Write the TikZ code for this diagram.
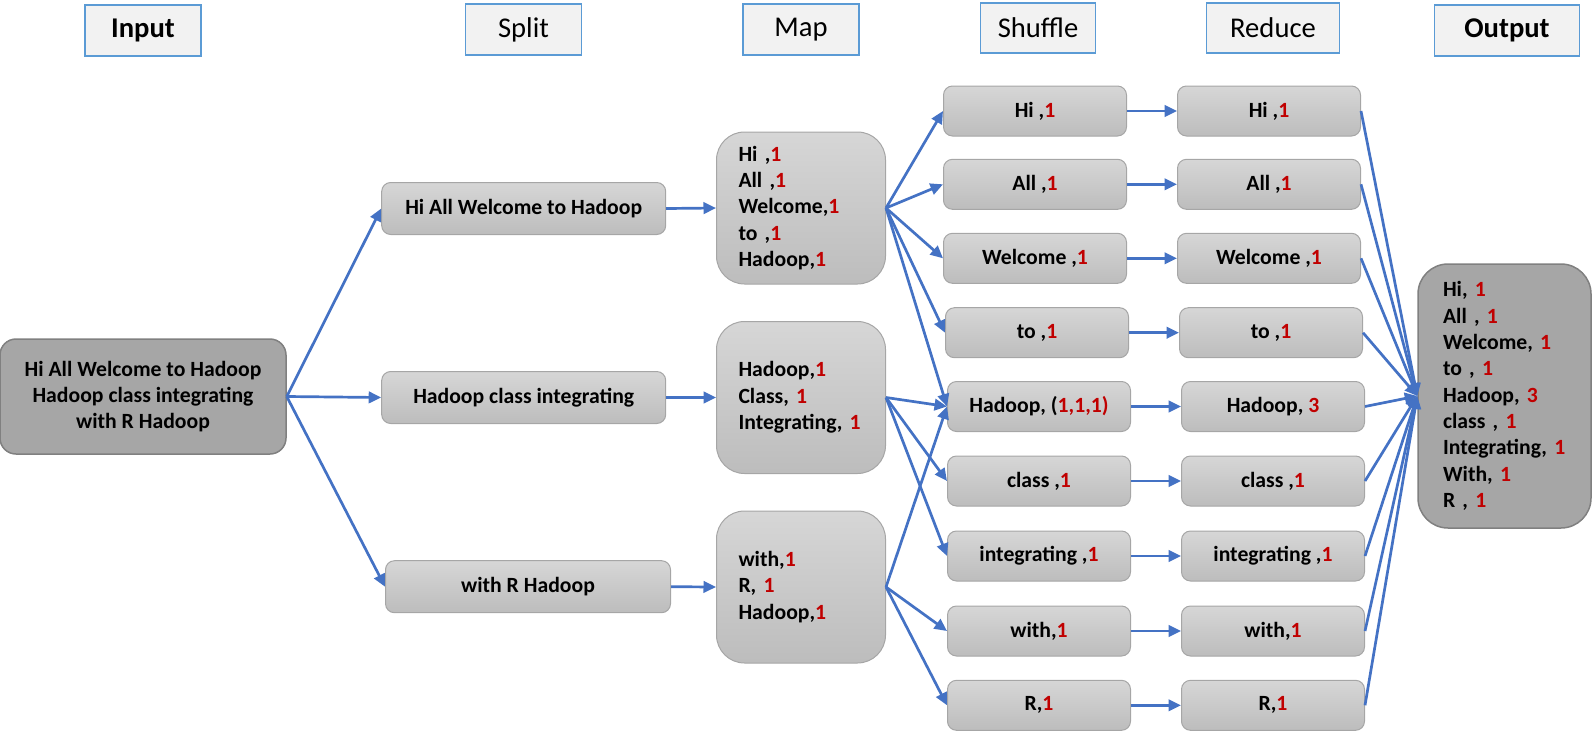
\documentclass[tikz,border=0pt]{standalone}
\usepackage{fontspec}
\setmainfont{Carlito}
\usepackage{xcolor}
\usetikzlibrary{arrows.meta}

\definecolor{flowblue}{HTML}{4472C4}
\definecolor{headblue}{HTML}{5B9BD5}
\definecolor{numred}{HTML}{C00000}
\newcommand{\redn}[1]{\textcolor{numred}{#1}}

\begin{document}
\begin{tikzpicture}[
  x=1pt, y=-1pt,
  head/.style={draw=headblue,line width=1.3pt,fill=black!5,minimum width=116pt,minimum height=51pt,inner sep=0pt,font=\fontsize{28.6}{34}\selectfont},
  kv/.style={draw=black!35,line width=1pt,top color=black!16,bottom color=black!26,rounded corners=9pt,minimum width=183pt,minimum height=50pt,inner sep=0pt,font=\fontsize{21.7}{26.3}\selectfont\bfseries},
  split/.style={kv,minimum width=284pt,minimum height=52pt},
  maplist/.style={kv,rounded corners=28pt,minimum width=169pt,text width=125pt,inner xsep=22pt,minimum height=152pt,align=left},
  bigbox/.style={draw=black!50,line width=1.5pt,fill=black!35,rounded corners=16pt,inner sep=0pt,align=center,font=\fontsize{21.7}{26.3}\selectfont\bfseries},
  arr/.style={-{Triangle[length=12.5pt,width=11.5pt]},flowblue,line width=2.7pt},
]
\useasboundingbox (0,0) rectangle (1592,731);

% headers
\node[head,font=\fontsize{28.6}{34}\selectfont\bfseries] (hin)  at (143,30.5)  {Input};
\node[head]                                           (hspl) at (523.5,29.5) {Split};
\node[head]                                           (hmap) at (801,29.5)   {Map};
\node[head,minimum width=115pt,minimum height=50pt]   (hshf) at (1038,28)    {Shuffle};
\node[head,minimum width=133pt,minimum height=50pt]   (hred) at (1273,28)    {Reduce};
\node[head,minimum width=145pt,font=\fontsize{28.6}{34}\selectfont\bfseries] (hout) at (1507,30.5) {Output};

% input
\node[bigbox,minimum width=286pt,minimum height=115pt] (in) at (143,396.5)
  {Hi All Welcome to Hadoop\\Hadoop class integrating\\with R Hadoop};

% split
\node[split] (s1) at (523.7,208.5) {Hi All Welcome to Hadoop};
\node[split] (s2) at (523.7,397.5) {Hadoop class integrating};
\node[split,minimum width=285pt] (s3) at (528,586.7) {with R Hadoop};

% map
\node[maplist] (m1) at (801,208)   {Hi ,\redn{1}\\All ,\redn{1}\\Welcome,\redn{1}\\to ,\redn{1}\\Hadoop,\redn{1}};
\node[maplist] (m2) at (801,397.5) {Hadoop,\redn{1}\\Class, \redn{1}\\Integrating, \redn{1}};
\node[maplist] (m3) at (801,587)   {with,\redn{1}\\R, \redn{1}\\Hadoop,\redn{1}};

% shuffle, top to bottom
\node[kv] (sh1) at (1035,111)   {Hi ,\redn{1}};
\node[kv] (sh2) at (1035,184.3) {All ,\redn{1}};
\node[kv] (sh3) at (1035,258.3) {Welcome ,\redn{1}};
\node[kv] (sh4) at (1037,332.7) {to ,\redn{1}};
\node[kv] (sh5) at (1039,406.5) {Hadoop, (\redn{1,1,1)}};
\node[kv] (sh6) at (1039,481)   {class ,\redn{1}};
\node[kv] (sh7) at (1039,556)   {integrating ,\redn{1}};
\node[kv] (sh8) at (1039,631)   {with,\redn{1}};
\node[kv] (sh9) at (1039,705.3) {R,\redn{1}};

% reduce, same rows
\node[kv] (r1) at (1269,111)   {Hi ,\redn{1}};
\node[kv] (r2) at (1269,184.3) {All ,\redn{1}};
\node[kv] (r3) at (1269,258.3) {Welcome ,\redn{1}};
\node[kv] (r4) at (1271,332.7) {to ,\redn{1}};
\node[kv] (r5) at (1273,406.5) {Hadoop, \redn{3}};
\node[kv] (r6) at (1273,481)   {class ,\redn{1}};
\node[kv] (r7) at (1273,556)   {integrating ,\redn{1}};
\node[kv] (r8) at (1273,631)   {with,\redn{1}};
\node[kv] (r9) at (1273,705.3) {R,\redn{1}};

% output
\node[bigbox,rounded corners=30pt,minimum width=173pt,minimum height=264pt,text width=123pt,align=left] (out) at (1504.5,396)
  {Hi, \redn{1}\\All , \redn{1}\\Welcome, \redn{1}\\to , \redn{1}\\Hadoop, \redn{3}\\class , \redn{1}\\Integrating, \redn{1}\\With, \redn{1}\\R , \redn{1}};

% input -> split -> map
\draw[arr] (in.east) -- (s1.west);
\draw[arr] (in.east) -- (s2.west);
\draw[arr] (in.east) -- (s3.west);
\draw[arr] (s1.east) -- (m1.west);
\draw[arr] (s2.east) -- (m2.west);
\draw[arr] (s3.east) -- (m3.west);

% map -> shuffle
\draw[arr] (m1.east) -- (sh1.west);
\draw[arr] (m1.east) -- (sh2.west);
\draw[arr] (m1.east) -- (sh3.west);
\draw[arr] (m1.east) -- (sh4.west);
\draw[arr] (m1.east) -- (sh5.west);
\draw[arr] (m2.east) -- (sh5.west);
\draw[arr] (m2.east) -- (sh6.west);
\draw[arr] (m2.east) -- (sh7.west);
\draw[arr] (m3.east) -- (sh5.west);
\draw[arr] (m3.east) -- (sh8.west);
\draw[arr] (m3.east) -- (sh9.west);

% shuffle -> reduce
\draw[arr] (sh1.east) -- (r1.west);
\draw[arr] (sh2.east) -- (r2.west);
\draw[arr] (sh3.east) -- (r3.west);
\draw[arr] (sh4.east) -- (r4.west);
\draw[arr] (sh5.east) -- (r5.west);
\draw[arr] (sh6.east) -- (r6.west);
\draw[arr] (sh7.east) -- (r7.west);
\draw[arr] (sh8.east) -- (r8.west);
\draw[arr] (sh9.east) -- (r9.west);

% reduce -> output
\draw[arr] (r1.east) -- (out.west);
\draw[arr] (r2.east) -- (out.west);
\draw[arr] (r3.east) -- (out.west);
\draw[arr] (r4.east) -- (out.west);
\draw[arr] (r5.east) -- (out.west);
\draw[arr] (r6.east) -- (out.west);
\draw[arr] (r7.east) -- (out.west);
\draw[arr] (r8.east) -- (out.west);
\draw[arr] (r9.east) -- (out.west);
\end{tikzpicture}
\end{document}
